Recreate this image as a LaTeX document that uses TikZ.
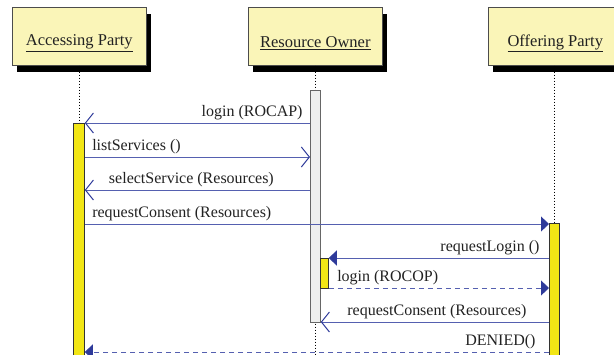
\documentclass[tikz,border=0pt]{standalone}
\usepackage{fontspec}
\setmainfont{Liberation Serif}
\usetikzlibrary{arrows.meta}
\definecolor{boxfill}{HTML}{FAF5B8}
\definecolor{actyellow}{HTML}{F2E615}
\definecolor{actgray}{HTML}{EEEFEE}
\definecolor{msgline}{HTML}{5560B0}
\definecolor{msghead}{HTML}{2E3A9A}
\definecolor{txt}{HTML}{222222}
\tikzset{
  party/.style={draw=black!70, fill=boxfill, line width=0.6pt, minimum width=134pt, minimum height=58pt, inner sep=0pt},
  partyname/.style={font=\fontsize{16.5}{18}\selectfont, text=txt, inner sep=0pt},
  shadowbox/.style={fill=black},
  lifeline/.style={black, line width=1pt, dotted},
  actbar/.style={draw=black!80, fill=actyellow, line width=0.8pt},
  actbargray/.style={draw=black!60, fill=actgray, line width=0.8pt},
  msg/.style={draw=msgline, line width=0.9pt},
  openhead/.style={-{Straight Barb[length=8pt,width=20pt,line width=1pt,color=msghead]}},
  fillhead/.style={-{Triangle[length=8pt,width=15pt,color=msghead]}},
  dashmsg/.style={dash pattern=on 5pt off 4pt},
  lbl/.style={font=\fontsize{16}{18}\selectfont, text=txt, inner sep=0pt},
}
\begin{document}
\begin{tikzpicture}[x=1pt,y=-1pt]
\useasboundingbox (0,0) rectangle (614,354);
\fill[white] (0,0) rectangle (614,354);
% shadows
\fill[shadowbox] (17,14) rectangle (151,72);
\fill[shadowbox] (253,14) rectangle (387,72);
\fill[shadowbox] (493,14) rectangle (630,72);
% party boxes
\node[party, anchor=north west] (ap) at (12,7) {};
\node[party, anchor=north west] (ro) at (248,7) {};
\node[party, anchor=north west] (op) at (488,7) {};
\node[partyname] (apn) at ([yshift=-7pt]ap.center) {\underline{Accessing Party}};
\node[partyname] (ron) at ([yshift=-7pt]ro.center) {\underline{Resource Owner}};
\node[partyname] (opn) at ([yshift=-7pt]op.center) {\underline{Offering Party}};
% lifelines
\coordinate (apend) at (79,354);
\coordinate (roend) at (315,354);
\coordinate (opend) at (554,354);
\draw[lifeline] (ap.south -| apend) -- (apend);
\draw[lifeline] (ro.south -| roend) -- (roend);
\draw[lifeline] (op.south -| opend) -- (opend);
% activation bars
\node[actbargray, anchor=north west, minimum width=10pt, minimum height=232pt, inner sep=0pt] (roact) at (310,90) {};
\node[actbar, anchor=north west, minimum width=11pt, minimum height=240pt, inner sep=0pt] (apact) at (73,123) {};
\node[actbar, anchor=north west, minimum width=10pt, minimum height=140pt, inner sep=0pt] (opact) at (549,223) {};
\node[actbar, anchor=north west, minimum width=8pt, minimum height=30pt, inner sep=0pt] (roact2) at (320,258) {};
% message anchor coordinates
\coordinate (y1) at (0,123);
\coordinate (y2) at (0,157);
\coordinate (y3) at (0,190);
\coordinate (y4) at (0,224);
\coordinate (y5) at (0,258);
\coordinate (y6) at (0,288);
\coordinate (y7) at (0,322);
\coordinate (y8) at (0,352);
% messages
\draw[msg, openhead] (roact.west |- y1) -- (apact.east |- y1) node[lbl, pos=0, anchor=south east, xshift=-7pt, yshift=3pt] (l1) {login (ROCAP)};
\draw[msg, openhead] (apact.east |- y2) -- (roact.west |- y2) node[lbl, pos=0, anchor=south west, xshift=7pt, yshift=3pt] (l2) {listServices ()};
\draw[msg, openhead] (roact.west |- y3) -- (apact.east |- y3) node[lbl, pos=0.5, anchor=south, xshift=-6pt, yshift=3pt] (l3) {selectService (Resources)};
\draw[msg, fillhead] (apact.east |- y4) -- (opact.west |- y4) node[lbl, pos=0, anchor=south west, xshift=7pt, yshift=3pt] (l4) {requestConsent (Resources)};
\draw[msg, fillhead] (opact.west |- y5) -- (roact2.east |- y5) node[lbl, pos=0, anchor=south east, xshift=-9pt, yshift=3pt] (l5) {requestLogin ()};
\draw[msg, fillhead, dashmsg] (roact2.east |- y6) -- (opact.west |- y6) node[lbl, pos=0, anchor=south west, xshift=8pt, yshift=3pt] (l6) {login (ROCOP)};
\draw[msg, openhead] (opact.west |- y7) -- (roact.east |- y7) node[lbl, pos=0.5, anchor=south, xshift=2pt, yshift=3pt] (l7) {requestConsent (Resources)};
\draw[msg, fillhead, dashmsg] (opact.west |- y8) -- (apact.east |- y8) node[lbl, pos=0, anchor=south east, xshift=-13pt, yshift=3pt] (l8) {DENIED()};
\end{tikzpicture}
\end{document}
